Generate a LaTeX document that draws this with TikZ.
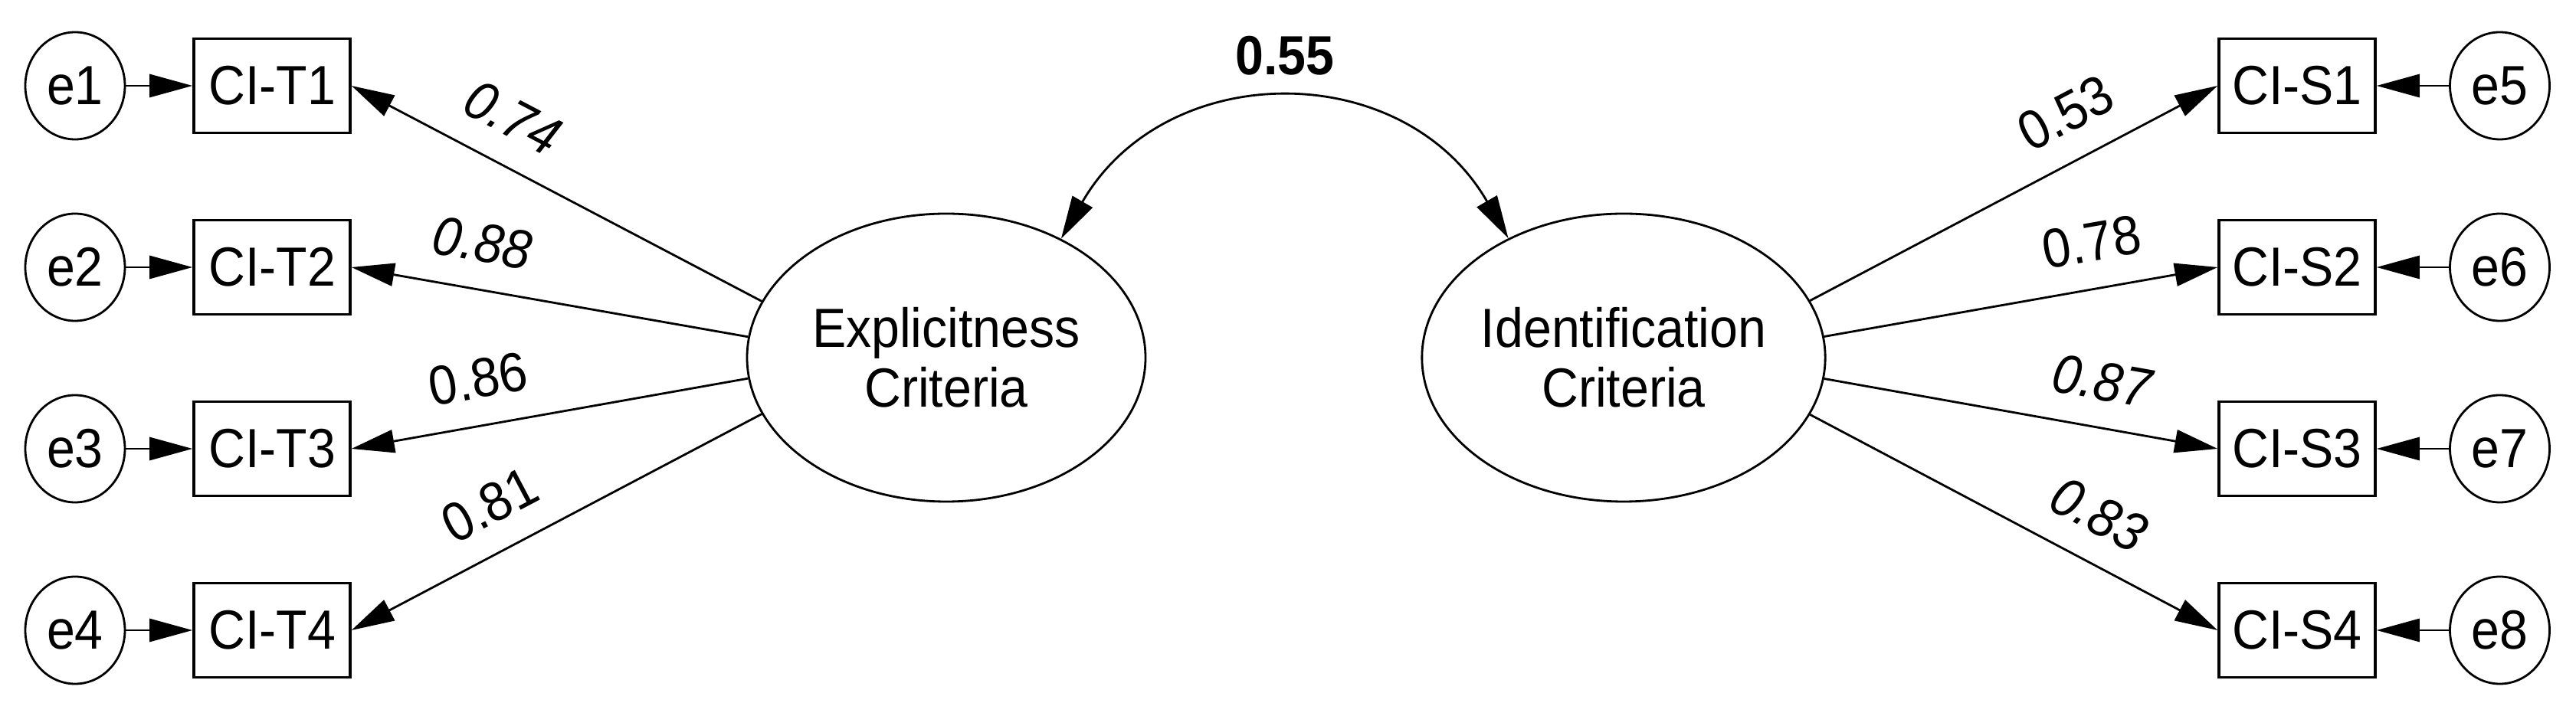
\documentclass[tikz,border=0pt]{standalone}
\usepackage{fontspec}
\setmainfont{Liberation Sans}[FakeStretch=0.92]
\usetikzlibrary{shapes.geometric, arrows.meta, positioning}
\tikzstyle{indicator} = [draw, rectangle, line width=1pt, minimum width=2.04cm, minimum height=1.23cm, inner sep=0pt]
\tikzstyle{errterm} = [draw, ellipse, line width=0.8pt, minimum width=1.3cm, minimum height=1.4cm, inner sep=0pt]
\tikzstyle{factor} = [draw, ellipse, line width=0.8pt, minimum width=5.2cm, minimum height=3.76cm, inner sep=0pt, align=center]
\tikzstyle{weight} = [sloped, above=0.24cm, inner sep=0.1cm]

\begin{document}
\begin{tikzpicture}[auto, line width=0.8pt, >={Triangle[length=5.6mm,width=3mm]}, font=\fontsize{20.5}{22.2}\selectfont]
        \useasboundingbox (0,0) rectangle (33.62,9.18);
        % Error terms and indicators on the left
        \node [errterm] at (0.98,8.06) (e1) {e1};
        \node [errterm, below of=e1, node distance=2.37cm] (e2) {e2};
        \node [errterm, below of=e2, node distance=2.37cm] (e3) {e3};
        \node [errterm, below of=e3, node distance=2.37cm] (e4) {e4};
        \node [indicator, right of=e1, node distance=2.57cm] (t1) {CI-T1};
        \node [indicator, right of=e2, node distance=2.57cm] (t2) {CI-T2};
        \node [indicator, right of=e3, node distance=2.57cm] (t3) {CI-T3};
        \node [indicator, right of=e4, node distance=2.57cm] (t4) {CI-T4};

        % The two factors
        \node [factor] at (12.35,4.51) (expl) {Explicitness\\Criteria};
        \node [factor, right of=expl, node distance=8.84cm] (ident) {Identification\\Criteria};

        % Indicators and error terms on the right
        \node [indicator] at (29.98,8.06) (s1) {CI-S1};
        \node [indicator, below of=s1, node distance=2.37cm] (s2) {CI-S2};
        \node [indicator, below of=s2, node distance=2.37cm] (s3) {CI-S3};
        \node [indicator, below of=s3, node distance=2.37cm] (s4) {CI-S4};
        \node [errterm, right of=s1, node distance=2.645cm] (e5) {e5};
        \node [errterm, right of=s2, node distance=2.645cm] (e6) {e6};
        \node [errterm, right of=s3, node distance=2.645cm] (e7) {e7};
        \node [errterm, right of=s4, node distance=2.645cm] (e8) {e8};

        % Errors into indicators
        \draw [->] (e1) -- (t1);
        \draw [->] (e2) -- (t2);
        \draw [->] (e3) -- (t3);
        \draw [->] (e4) -- (t4);
        \draw [->] (e5) -- (s1);
        \draw [->] (e6) -- (s2);
        \draw [->] (e7) -- (s3);
        \draw [->] (e8) -- (s4);

        % Loadings
        \draw [<-] (t1.east) -- node[weight, pos=0.34] (w1) {\itshape 0.74} (expl.163);
        \draw [<-] (t2.east) -- node[weight, pos=0.31] (w2) {\itshape 0.88} (expl.174);
        \draw [<-] (t3.east) -- node[weight, pos=0.34] (w3) {0.86} (expl.186);
        \draw [<-] (t4.east) -- node[weight, pos=0.39] (w4) {0.81} (expl.197);
        \draw [->] (ident.17) -- node[weight, pos=0.68] (w5) {0.53} (s1.west);
        \draw [->] (ident.6) -- node[weight, pos=0.70] (w6) {0.78} (s2.west);
        \draw [->] (ident.-6) -- node[weight, pos=0.685] (w7) {\itshape 0.87} (s3.west);
        \draw [->] (ident.-17) -- node[weight, pos=0.655] (w8) {\itshape 0.83} (s4.west);

        % Correlation between the factors
        \draw [<->] (expl.46) to[out=60, in=120, looseness=1.2] node[midway, above=0.24cm, inner sep=0.1cm] (cov) {\bfseries 0.55} (ident.134);
    \end{tikzpicture}
\end{document}
